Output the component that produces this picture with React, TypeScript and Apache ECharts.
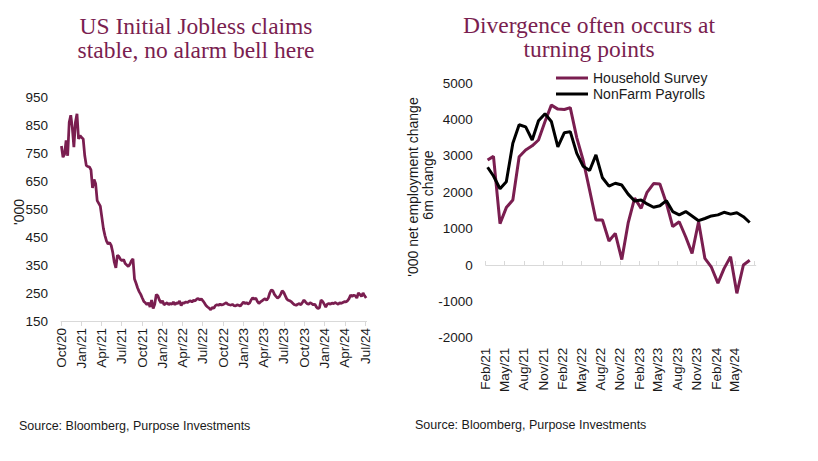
import React, { useEffect, useRef } from "react";
import * as echarts from "echarts";

const MAROON = "#7a1e50";
const SANS = "'Liberation Sans', Arial, sans-serif";
const SERIF = "'Liberation Serif', 'Times New Roman', serif";
const MONTHS = ["Jan", "Feb", "Mar", "Apr", "May", "Jun", "Jul", "Aug", "Sep", "Oct", "Nov", "Dec"];

// ---- Left chart: US initial jobless claims ('000), weekly from 3 Oct 2020
const claimsStart = { y: 2020, m: 9, d: 3 };
const claims = [
  775, 735, 745, 795, 740, 860, 885, 840, 771, 860,
  890, 800, 812, 805, 800, 740, 705, 702, 700, 690,
  625, 655, 640, 580, 570, 560, 520, 480, 455, 435,
  425, 430, 420, 395, 360, 340, 385, 380, 370, 365,
  370, 355, 350, 345, 352, 365, 372, 300, 285, 268,
  255, 245, 232, 220, 215, 208, 215, 200, 225, 195,
  210, 245, 240, 225, 215, 222, 208, 212, 215, 208,
  213, 210, 218, 208, 215, 212, 222, 205, 215, 214,
  218, 216, 220, 222, 218, 224, 222, 228, 230, 225,
  229, 222, 214, 205, 200, 196, 190, 198, 195, 205,
  208, 206, 210, 207, 209, 212, 215, 210, 208, 207,
  209, 205, 204, 208, 206, 203, 210, 218, 212, 216,
  211, 214, 225, 233, 228, 232, 220, 213, 218, 222,
  226, 230, 224, 232, 250, 261, 258, 245, 238, 232,
  236, 245, 258, 252, 240, 228, 224, 222, 218, 212,
  208, 206, 210, 212, 208, 216, 225, 218, 212, 210,
  215, 212, 208, 210, 200, 194, 198, 225, 220, 210,
  200, 210, 213, 210, 214, 212, 216, 213, 210, 215,
  213, 216, 219, 218, 222, 230, 243, 238, 242, 240,
  232, 250, 245, 238, 250, 240, 232,
];
const leftXTicks = [
  "Oct/20", "Jan/21", "Apr/21", "Jul/21", "Oct/21", "Jan/22", "Apr/22", "Jul/22",
  "Oct/22", "Jan/23", "Apr/23", "Jul/23", "Oct/23", "Jan/24", "Apr/24", "Jul/24",
];
const leftYTicks = [150, 250, 350, 450, 550, 650, 750, 850, 950];

// ---- Right chart: 6m change in employment ('000), monthly from Feb 2021
const rightStart = { y: 2021, m: 1, d: 10 };
const household = [
  2890, 2990, 1140, 1580, 1790, 2980, 3165, 3280, 3440, 3950,
  4400, 4290, 4280, 4330, 3500, 2890, 2060, 1240, 1240, 660,
  870, 150, 1150, 1840, 1560, 2000, 2240, 2230, 1700, 1060,
  1190, 770, 320, 1190, 180, -60, -500, -100, 230, -780,
  0, 130,
];
const nonfarm = [
  2690, 2450, 2100, 2290, 3350, 3860, 3800, 3440, 3970, 4160,
  3950, 3250, 3640, 3670, 3070, 2720, 2600, 3030, 2400, 2170,
  2250, 2200, 1950, 1760, 1790, 1680, 1590, 1630, 1770, 1470,
  1380, 1470, 1350, 1220, 1280, 1350, 1380, 1450, 1400, 1440,
  1330, 1170,
];
const rightXLabels = [
  "Feb/21", "May/21", "Aug/21", "Nov/21", "Feb/22", "May/22", "Aug/22",
  "Nov/22", "Feb/23", "May/23", "Aug/23", "Nov/23", "Feb/24", "May/24",
];
const rightXLastTick = "Aug/24";

const parseLabel = (l: string) => {
  const [mon, yy] = l.split("/");
  return new Date(2000 + Number(yy), MONTHS.indexOf(mon), 1).getTime();
};
const fmt = (v: number) => {
  const d = new Date(v);
  return MONTHS[d.getMonth()] + "/" + String(d.getFullYear() % 100).padStart(2, "0");
};

export default function App() {
  const ref = useRef<HTMLDivElement>(null);
  useEffect(() => {
    const chart = echarts.init(ref.current!, null, { renderer: "svg" });

    const claimsData = claims.map((v, i) => [
      new Date(claimsStart.y, claimsStart.m, claimsStart.d + 7 * i).getTime(),
      v,
    ]);
    const monthDate = (i: number) => new Date(rightStart.y, rightStart.m + i, rightStart.d).getTime();
    const hhData = household.map((v, i) => [monthDate(i), v]);
    const nfData = nonfarm.map((v, i) => [monthDate(i), v]);

    const leftTickVals = leftXTicks.map(parseLabel);
    const rightLabelVals = rightXLabels.map(parseLabel);
    const rightTickVals = [...rightXLabels, rightXLastTick].map(parseLabel);

    const axisGrey = "#d9d9d9";
    const labelColor = "#1a1a1a";

    const option: any = {
      animation: false,
      textStyle: { fontFamily: SANS },
      grid: [
        { left: 61, right: 451.4, top: 97, bottom: 140 },
        { left: 485.7, right: 62.2, top: 83.3, bottom: 123.3 },
      ],
      legend: {
        data: ["Household Survey", "NonFarm Payrolls"],
        orient: "vertical",
        left: 551,
        top: 66,
        icon: "rect",
        itemWidth: 32,
        itemHeight: 3,
        itemGap: 2,
        textStyle: { fontSize: 14, color: labelColor, fontFamily: SANS },
      },
      xAxis: [
        {
          type: "value",
          gridIndex: 0,
          min: new Date(2020, 9, 1).getTime(),
          max: new Date(2024, 6, 8).getTime(),
          axisLine: { show: true, onZero: false, lineStyle: { color: axisGrey, width: 1 } },
          axisTick: { show: true, length: 5, customValues: leftTickVals, lineStyle: { color: axisGrey } },
          axisLabel: {
            customValues: leftTickVals,
            rotate: 90,
            margin: 7,
            fontSize: 13.5,
            color: labelColor,
            formatter: (v: number) => fmt(v),
          },
          splitLine: { show: false },
        },
        {
          type: "value",
          gridIndex: 1,
          min: new Date(2021, 1, 1).getTime(),
          max: new Date(2024, 7, 8).getTime(),
          axisLine: { show: false, onZero: false },
          axisTick: { show: false },
          axisLabel: {
            customValues: rightLabelVals,
            rotate: 90,
            margin: 10,
            fontSize: 13.5,
            color: labelColor,
            formatter: (v: number) => fmt(v),
          },
          splitLine: { show: false },
        },
        {
          type: "value",
          gridIndex: 1,
          min: new Date(2021, 1, 1).getTime(),
          max: new Date(2024, 7, 8).getTime(),
          axisLine: { show: true, onZero: true, lineStyle: { color: axisGrey, width: 1 } },
          axisTick: { show: true, length: 4, customValues: rightTickVals, lineStyle: { color: axisGrey } },
          axisLabel: { show: false },
          splitLine: { show: false },
        },
      ],
      yAxis: [
        {
          type: "value",
          gridIndex: 0,
          min: 150,
          max: 950,
          axisLine: { show: false },
          axisTick: { show: false },
          splitLine: { show: false },
          axisLabel: { customValues: leftYTicks, fontSize: 13.5, color: labelColor, margin: 13 },
        },
        {
          type: "value",
          gridIndex: 1,
          min: -2000,
          max: 5000,
          interval: 1000,
          axisLine: { show: false },
          axisTick: { show: false },
          splitLine: { show: false },
          axisLabel: { fontSize: 13.5, color: labelColor, margin: 13, formatter: (v: number) => String(v) },
        },
      ],
      series: [
        {
          type: "line",
          name: "Initial Jobless Claims",
          xAxisIndex: 0,
          yAxisIndex: 0,
          data: claimsData,
          symbol: "none",
          lineStyle: { color: MAROON, width: 2.75 },
          itemStyle: { color: MAROON },
        },
        {
          type: "line",
          name: "Household Survey",
          xAxisIndex: 1,
          yAxisIndex: 1,
          data: hhData,
          symbol: "none",
          lineStyle: { color: MAROON, width: 3 },
          itemStyle: { color: MAROON },
        },
        {
          type: "line",
          name: "NonFarm Payrolls",
          xAxisIndex: 1,
          yAxisIndex: 1,
          data: nfData,
          symbol: "none",
          lineStyle: { color: "#000000", width: 3 },
          itemStyle: { color: "#000000" },
        },
      ],
      graphic: [
        { type: "text", x: 196, y: 26, style: { text: "US Initial Jobless claims", font: `23.5px ${SERIF}`, fill: MAROON, textAlign: "center", textVerticalAlign: "middle" } },
        { type: "text", x: 196, y: 50, style: { text: "stable, no alarm bell here", font: `23.5px ${SERIF}`, fill: MAROON, textAlign: "center", textVerticalAlign: "middle" } },
        { type: "text", x: 589, y: 25, style: { text: "Divergence often occurs at", font: `23.5px ${SERIF}`, fill: MAROON, textAlign: "center", textVerticalAlign: "middle" } },
        { type: "text", x: 589, y: 49, style: { text: "turning points", font: `23.5px ${SERIF}`, fill: MAROON, textAlign: "center", textVerticalAlign: "middle" } },
        { type: "text", x: 19, y: 212, rotation: Math.PI / 2, style: { text: "'000", font: `14px ${SANS}`, fill: labelColor, textAlign: "center", textVerticalAlign: "middle" } },
        { type: "text", x: 413, y: 187, rotation: Math.PI / 2, style: { text: "'000 net employment change", font: `14px ${SANS}`, fill: labelColor, textAlign: "center", textVerticalAlign: "middle" } },
        { type: "text", x: 428, y: 185, rotation: Math.PI / 2, style: { text: "6m change", font: `14px ${SANS}`, fill: labelColor, textAlign: "center", textVerticalAlign: "middle" } },
        { type: "text", x: 19, y: 426, style: { text: "Source: Bloomberg, Purpose Investments", font: `12.5px ${SANS}`, fill: labelColor, textAlign: "left", textVerticalAlign: "middle" } },
        { type: "text", x: 415, y: 425, style: { text: "Source: Bloomberg, Purpose Investments", font: `12.5px ${SANS}`, fill: labelColor, textAlign: "left", textVerticalAlign: "middle" } },
      ],
    };
    chart.setOption(option);
    return () => chart.dispose();
  }, []);
  return (
    <div
      ref={ref}
      style={{ position: "fixed", left: 0, top: 0, width: 818, height: 461, background: "#ffffff" }}
    />
  );
}
